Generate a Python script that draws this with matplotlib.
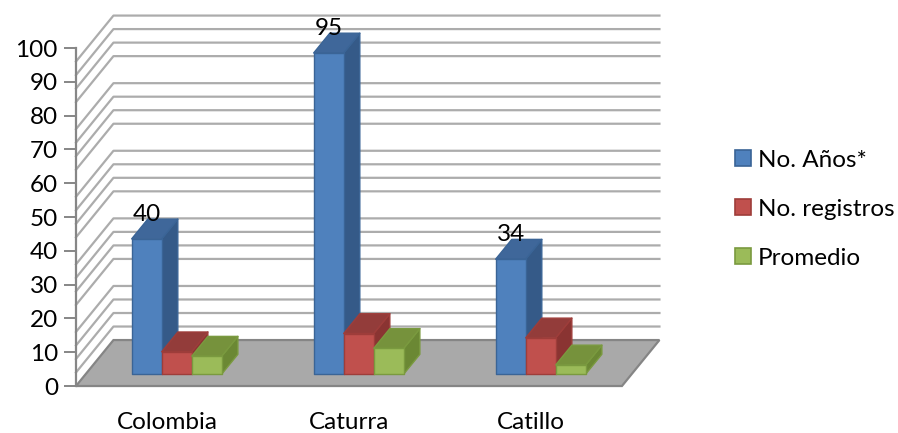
import numpy as np
import matplotlib
matplotlib.use('Agg')
import matplotlib.pyplot as plt
from matplotlib.patches import Polygon, Patch

plt.rcParams['font.family'] = ['Lato', 'DejaVu Sans']

categories = ['Colombia', 'Caturra', 'Catillo']
series_names = ['No. Años*', 'No. registros', 'Promedio']
anios = [40, 95, 34]
registros = [6.6, 12.0, 10.7]
promedio = [5.3, 7.6, 2.7]
labels_anios = ['40', '95', '34']

series = [anios, registros, promedio]
# front, top, side, edge colours per series
colors = [('#4f81bd', '#3f679a', '#355a88', '#3a6496'),
          ('#c0504d', '#933c3a', '#8a3432', '#9e3d3a'),
          ('#9bbb59', '#76923c', '#6b8834', '#7a9a3f')]

FS = 17.5

# oblique projection: depth 0 = front edge of floor, depth 1 = back wall
DX = 0.206   # category units per full depth
DY = 13.6    # value units per full depth
d0, d1 = 0.26, 0.69   # bar depth span
bw = 0.165            # bar width in category units

def P(x, v, d):
    return (x + d * DX, v + d * DY)

fig = plt.figure(figsize=(8.98, 4.33), dpi=100)
ax = fig.add_axes([0.0846, 0.1085, 0.608, 0.7806])
ax.set_xlim(-0.5, 2.5)
ax.set_ylim(0, 100)

grid_c = '#acacac'
x_left, x_right = -0.5, 2.5

# wall gridlines (left wall diagonals + back wall)
grid_vals = [4 * k for k in range(1, 25) if k % 5 != 0]
for g in grid_vals:
    xs, ys = zip(P(x_left, g, 0), P(x_left, g, 1), P(x_right, g, 1))
    ax.plot(xs, ys, color=grid_c, lw=1.6, clip_on=False, zorder=1)

# floor
floor = [P(x_left, 0, 0), P(x_right, 0, 0), P(x_right, 0, 1), P(x_left, 0, 1)]
ax.add_patch(Polygon(floor, closed=True, facecolor='#a9a9a9', edgecolor='#858585',
                     lw=1.6, clip_on=False, zorder=2))

# bars
for i in range(len(categories)):
    for s, vals in enumerate(series):
        v = vals[i]
        front_c, top_c, side_c, edge_c = colors[s]
        xa = i + (s - 1.5) * bw
        xb = xa + bw
        front = [P(xa, 0, d0), P(xb, 0, d0), P(xb, v, d0), P(xa, v, d0)]
        top = [P(xa, v, d0), P(xb, v, d0), P(xb, v, d1), P(xa, v, d1)]
        side = [P(xb, 0, d0), P(xb, 0, d1), P(xb, v, d1), P(xb, v, d0)]
        for poly, fc in ((side, side_c), (top, top_c), (front, front_c)):
            ax.add_patch(Polygon(poly, closed=True, facecolor=fc, edgecolor=edge_c,
                                 lw=1.0, joinstyle='round', clip_on=False, zorder=3))

# value labels on the first series
for i, v in enumerate(anios):
    xa = i - 1.5 * bw
    x, y = P(xa + bw / 2, v, d1)
    ax.text(xa + bw / 2 + d0 * DX, y - 1.6, labels_anios[i], ha='center', va='bottom',
            fontsize=FS, color='black', zorder=5, clip_on=False)

# axes styling
for side in ['top', 'right', 'bottom']:
    ax.spines[side].set_visible(False)
ax.spines['left'].set_color('#868686')
ax.spines['left'].set_linewidth(1.6)
ax.set_yticks(np.arange(0, 101, 10))
ax.tick_params(axis='y', direction='out', length=9, width=1.4, color='#868686',
               labelsize=FS, pad=4)
ax.set_xticks(range(len(categories)))
ax.set_xticklabels(categories)
ax.tick_params(axis='x', length=0, labelsize=FS, pad=19)
ax.set_facecolor('none')

handles = [Patch(facecolor=c[0], edgecolor=c[3], lw=1.2) for c in colors]
fig.legend(handles, series_names, loc='center left', bbox_to_anchor=(0.818, 0.517),
           frameon=False, fontsize=FS, handlelength=0.66, handleheight=0.66,
           handletextpad=0.3, labelspacing=1.15, borderpad=0, borderaxespad=0)

fig.savefig('out.png', dpi=100)
